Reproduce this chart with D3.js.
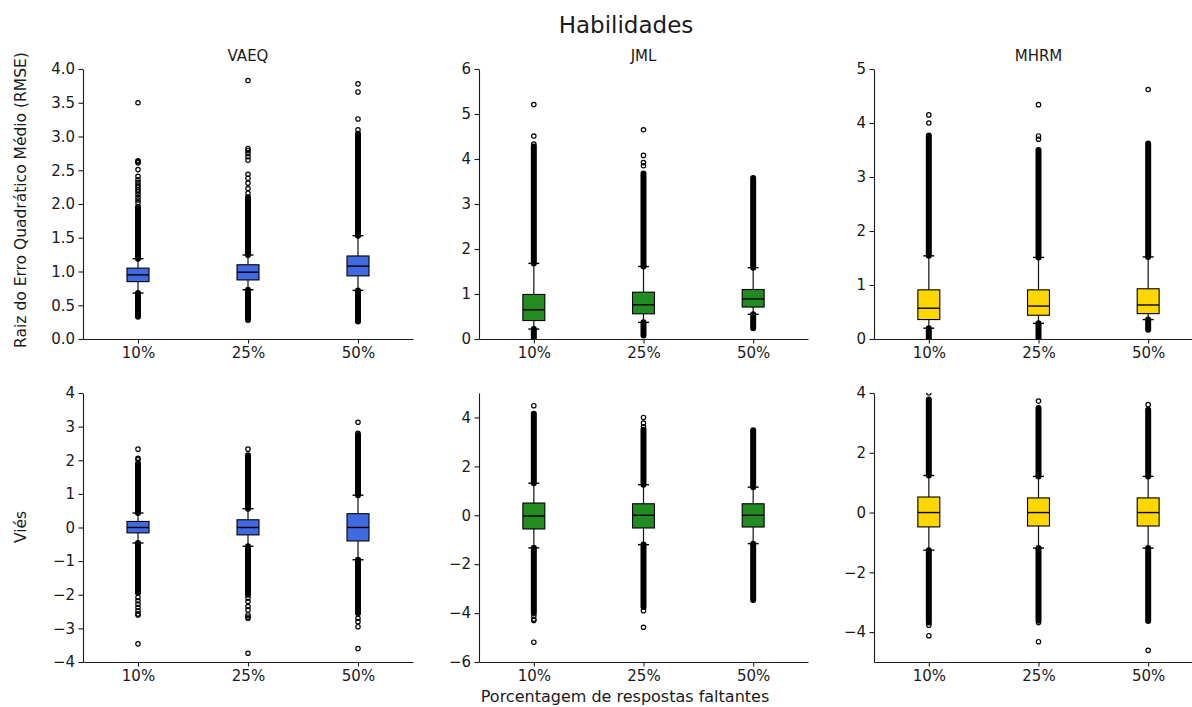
<!DOCTYPE html>
<html>
<head>
<meta charset="utf-8">
<script src="https://cdn.jsdelivr.net/npm/d3@7"></script>
<style>
  body { margin: 0; background: #fff; }
  text { font-family: "DejaVu Sans", sans-serif; fill: #1a1a1a; }
</style>
</head>
<body>
<svg id="chart" width="1192" height="707"></svg>
<script>
// Missing-response percentages and estimation methods
const categories = ["10%", "25%", "50%"];
const methods = ["VAEQ", "JML", "MHRM"];

// Box statistics per method: quartiles, whisker ends, runs of tightly packed
// outliers [from, to] and individual outliers
const rmseVAEQ = [
  { q1: 0.85, med: 0.95, q3: 1.05, lo: 0.68, hi: 1.19,
    dense: [[0.33, 0.68], [1.19, 1.96]],
    single: [2.02, 2.06, 2.1, 2.14, 2.18, 2.21, 2.25, 2.28, 2.32, 2.36, 2.41, 2.51, 2.61, 2.63, 2.64, 3.5] },
  { q1: 0.875, med: 0.99, q3: 1.1, lo: 0.73, hi: 1.245,
    dense: [[0.28, 0.73], [1.245, 2.1]],
    single: [2.16, 2.23, 2.31, 2.38, 2.44, 2.65, 2.7, 2.75, 2.79, 2.82, 3.83] },
  { q1: 0.935, med: 1.08, q3: 1.23, lo: 0.72, hi: 1.53,
    dense: [[0.26, 0.72], [1.53, 3.04]],
    single: [3.1, 3.26, 3.66, 3.78] }
];
const rmseJML = [
  { q1: 0.41, med: 0.65, q3: 0.99, lo: 0.22, hi: 1.68,
    dense: [[0.0, 0.22], [1.68, 4.28]],
    single: [4.33, 4.51, 5.21] },
  { q1: 0.56, med: 0.76, q3: 1.04, lo: 0.37, hi: 1.61,
    dense: [[0.08, 0.37], [1.61, 3.68]],
    single: [3.85, 3.92, 4.08, 4.65] },
  { q1: 0.71, med: 0.89, q3: 1.1, lo: 0.55, hi: 1.585,
    dense: [[0.24, 0.55], [1.585, 3.58]],
    single: [] }
];
const rmseMHRM = [
  { q1: 0.36, med: 0.57, q3: 0.91, lo: 0.2, hi: 1.54,
    dense: [[0.0, 0.2], [1.54, 3.77]],
    single: [4.0, 4.15] },
  { q1: 0.44, med: 0.61, q3: 0.91, lo: 0.29, hi: 1.51,
    dense: [[0.02, 0.29], [1.51, 3.5]],
    single: [3.7, 3.76, 4.34] },
  { q1: 0.47, med: 0.63, q3: 0.93, lo: 0.36, hi: 1.52,
    dense: [[0.17, 0.36], [1.52, 3.62]],
    single: [4.62] }
];
const biasVAEQ = [
  { q1: -0.16, med: 0.0, q3: 0.18, lo: -0.46, hi: 0.43,
    dense: [[-1.95, -0.46], [0.43, 1.9]],
    single: [2.02, 2.06, 2.33, -2.08, -2.18, -2.28, -2.38, -2.48, -2.57, -2.6, -3.46] },
  { q1: -0.22, med: 0.0, q3: 0.23, lo: -0.56, hi: 0.56,
    dense: [[-2.0, -0.56], [0.56, 2.15]],
    single: [2.33, -2.1, -2.2, -2.35, -2.45, -2.6, -2.66, -2.7, -3.74] },
  { q1: -0.4, med: 0.0, q3: 0.41, lo: -0.96, hi: 0.96,
    dense: [[-2.55, -0.96], [0.96, 2.75]],
    single: [2.8, 3.13, -2.7, -2.8, -2.95, -3.6] }
];
const biasJML = [
  { q1: -0.56, med: -0.03, q3: 0.5, lo: -1.33, hi: 1.31,
    dense: [[-4.0, -1.33], [1.31, 4.15]],
    single: [4.48, -4.12, -4.25, -4.3, -5.19] },
  { q1: -0.52, med: 0.0, q3: 0.47, lo: -1.2, hi: 1.25,
    dense: [[-3.75, -1.2], [1.25, 3.5]],
    single: [3.62, 3.77, 4.0, -3.9, -4.58] },
  { q1: -0.48, med: 0.0, q3: 0.47, lo: -1.16, hi: 1.15,
    dense: [[-3.46, -1.16], [1.15, 3.48]],
    single: [] }
];
const biasMHRM = [
  { q1: -0.48, med: 0.0, q3: 0.52, lo: -1.26, hi: 1.24,
    dense: [[-3.68, -1.26], [1.24, 3.78]],
    single: [4.0, -3.77, -4.12] },
  { q1: -0.45, med: 0.0, q3: 0.49, lo: -1.19, hi: 1.21,
    dense: [[-3.62, -1.19], [1.21, 3.5]],
    single: [3.73, -3.68, -4.32] },
  { q1: -0.45, med: 0.0, q3: 0.49, lo: -1.19, hi: 1.21,
    dense: [[-3.63, -1.19], [1.21, 3.44]],
    single: [3.61, -4.61] }
];

// Axis limits and tick values
const rmseDomains = [[0, 4], [0, 6], [0, 5]];
const biasDomains = [[-4, 4], [-6, 5], [-5, 4]];
const rmseTicks = [[0, 0.5, 1, 1.5, 2, 2.5, 3, 3.5, 4], [0, 1, 2, 3, 4, 5, 6], [0, 1, 2, 3, 4, 5]];
const biasTicks = [[-4, -3, -2, -1, 0, 1, 2, 3, 4], [-6, -4, -2, 0, 2, 4], [-4, -2, 0, 2, 4]];
const rmseFormats = [".1f", "d", "d"];

const methodColors = ["#4169e1", "#228b22", "#ffd700"];

const svg = d3.select("#chart");
const colX = [[83, 413], [479, 808], [874, 1203]];
const rowY = [[69, 339], [393, 662]];
const FS = 15;

const rows = [
  { data: [rmseVAEQ, rmseJML, rmseMHRM], domains: rmseDomains, ticks: rmseTicks, fmt: rmseFormats },
  { data: [biasVAEQ, biasJML, biasMHRM], domains: biasDomains, ticks: biasTicks, fmt: ["d", "d", "d"] }
];

rows.forEach((row, r) => {
  row.data.forEach((boxes, c) => {
    const [x0, x1] = colX[c];
    const [yTop, yBot] = rowY[r];
    const x = d3.scalePoint().domain(categories).range([x0, x1]).padding(0.5);
    const y = d3.scaleLinear().domain(row.domains[c]).range([yBot, yTop]);
    const g = svg.append("g");
    const clipId = `clip-${r}-${c}`;
    svg.append("clipPath").attr("id", clipId)
      .append("rect").attr("x", x0).attr("y", yTop).attr("width", x1 - x0).attr("height", yBot - yTop);

    const boxW = x.step() * 0.2;
    const capW = boxW / 2;

    const marks = g.append("g").attr("clip-path", `url(#${clipId})`);
    boxes.forEach((b, i) => {
      const cx = x(categories[i]);
      const bg = marks.append("g");
      // whiskers
      bg.append("line").attr("x1", cx).attr("x2", cx).attr("y1", y(b.q1)).attr("y2", y(b.lo))
        .attr("stroke", "#111").attr("stroke-width", 1.2);
      bg.append("line").attr("x1", cx).attr("x2", cx).attr("y1", y(b.q3)).attr("y2", y(b.hi))
        .attr("stroke", "#111").attr("stroke-width", 1.2);
      // caps
      [b.lo, b.hi].forEach(v => {
        bg.append("line").attr("x1", cx - capW / 2).attr("x2", cx + capW / 2)
          .attr("y1", y(v)).attr("y2", y(v)).attr("stroke", "#000").attr("stroke-width", 1.4);
      });
      // box
      bg.append("rect").attr("x", cx - boxW / 2).attr("width", boxW)
        .attr("y", y(b.q3)).attr("height", y(b.q1) - y(b.q3))
        .attr("fill", methodColors[c]).attr("stroke", "#000").attr("stroke-width", 1.1);
      // median
      bg.append("line").attr("x1", cx - boxW / 2).attr("x2", cx + boxW / 2)
        .attr("y1", y(b.med)).attr("y2", y(b.med)).attr("stroke", "#000").attr("stroke-width", 1.4);
      // packed outliers
      b.dense.forEach(([a, z]) => {
        bg.append("line").attr("x1", cx).attr("x2", cx).attr("y1", y(a)).attr("y2", y(z))
          .attr("stroke", "#000").attr("stroke-width", 6).attr("stroke-linecap", "round");
      });
      // individual outliers
      bg.selectAll("circle.o").data(b.single).join("circle")
        .attr("cx", cx).attr("cy", d => y(d)).attr("r", 2.2)
        .attr("fill", "none").attr("stroke", "#000").attr("stroke-width", 1.2);
    });

    // axes
    const yAxis = d3.axisLeft(y).tickValues(row.ticks[c]).tickFormat(d3.format(row.fmt[c]))
      .tickSize(4.5).tickSizeOuter(0).tickPadding(3.5);
    const xAxis = d3.axisBottom(x).tickSize(4.5).tickSizeOuter(0).tickPadding(4);
    const ya = g.append("g").attr("transform", `translate(${x0},0)`).call(yAxis);
    const xa = g.append("g").attr("transform", `translate(0,${yBot})`).call(xAxis);
    [ya, xa].forEach(a => {
      a.selectAll("text").attr("font-size", FS).attr("font-family", "DejaVu Sans, sans-serif").attr("fill", "#1a1a1a");
      a.selectAll("line, path").attr("stroke", "#1a1a1a").attr("stroke-width", 1.1);
    });

    if (r === 0) {
      svg.append("text").attr("x", (x0 + x1) / 2).attr("y", 61)
        .attr("text-anchor", "middle").attr("font-size", FS).text(methods[c]);
    }
  });
});

// figure title and axis labels
svg.append("text").attr("x", 626).attr("y", 33).attr("text-anchor", "middle")
  .attr("font-size", 23).text("Habilidades");
svg.append("text").attr("transform", "translate(26,200) rotate(-90)").attr("text-anchor", "middle")
  .attr("font-size", 15.5).text("Raiz do Erro Quadrático Médio (RMSE)");
svg.append("text").attr("transform", "translate(26,527) rotate(-90)").attr("text-anchor", "middle")
  .attr("font-size", 15.5).text("Viés");
svg.append("text").attr("x", 625).attr("y", 702).attr("text-anchor", "middle")
  .attr("font-size", 16).text("Porcentagem de respostas faltantes");
</script>
</body>
</html>
